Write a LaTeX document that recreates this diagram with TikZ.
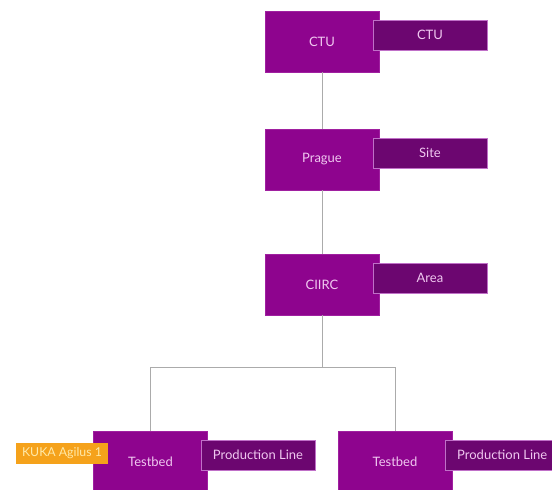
\documentclass[tikz,border=0pt]{standalone}
\usepackage{fontspec}
\setmainfont{Lato}
\usetikzlibrary{positioning}
\definecolor{unitfill}{HTML}{8E048E}
\definecolor{unitline}{HTML}{A020A0}
\definecolor{tagfill}{HTML}{6C0670}
\definecolor{tagline}{HTML}{C070C8}
\definecolor{textpink}{HTML}{F0C8F0}
\definecolor{assetfill}{HTML}{F5A21B}
\definecolor{assettext}{HTML}{FFE9A8}
\definecolor{wire}{HTML}{ABABAB}
\tikzset{
  x=1pt, y=-1pt,
  unit/.style={draw=unitline, line width=0.6pt, fill=unitfill, minimum width=114pt,
    minimum height=61pt, inner sep=0pt, text=textpink, font=\fontsize{13}{15}\selectfont},
  tag/.style={draw=tagline, line width=0.5pt, fill=tagfill, minimum width=114pt,
    minimum height=30pt, inner sep=0pt, text=textpink, font=\fontsize{13}{15}\selectfont},
  asset/.style={fill=assetfill, minimum width=92pt, minimum height=21pt, inner sep=0pt,
    text=assettext, font=\fontsize{12.3}{14}\selectfont},
  wireline/.style={draw=wire, line width=0.8pt}
}
\begin{document}
\begin{tikzpicture}
\useasboundingbox (0,0) rectangle (552,490);
% hierarchy levels
\node[unit] (ctu)    at (322,41.5)  {CTU};
\node[unit] (prague) at (322,159.5) {Prague};
\node[unit] (ciirc)  at (322,284.5) {CIIRC};
\node[unit] (tbL)    at (150.5,461.5) {Testbed};
\node[unit] (tbR)    at (395,461.5)   {Testbed};
% connectors
\coordinate (bus) at (322,367);
\draw[wireline] (ctu) -- (prague);
\draw[wireline] (prague) -- (ciirc);
\draw[wireline] (ciirc) -- (bus);
\draw[wireline] (bus) -| (tbL.north);
\draw[wireline] (bus) -| (tbR.north);
% level tags
\node[tag] (ctuTag) at (430,35)  {CTU};
\node[tag] (site)   at (430,153) {Site};
\node[tag] (area)   at (430,278) {Area};
\node[tag] (plL)    at (258,455) {Production Line};
\node[tag, anchor=west] (plR) at (445,455) {Production Line};
% asset
\node[asset] (kuka) at (62,453.5) {KUKA Agilus 1};
\end{tikzpicture}
\end{document}
